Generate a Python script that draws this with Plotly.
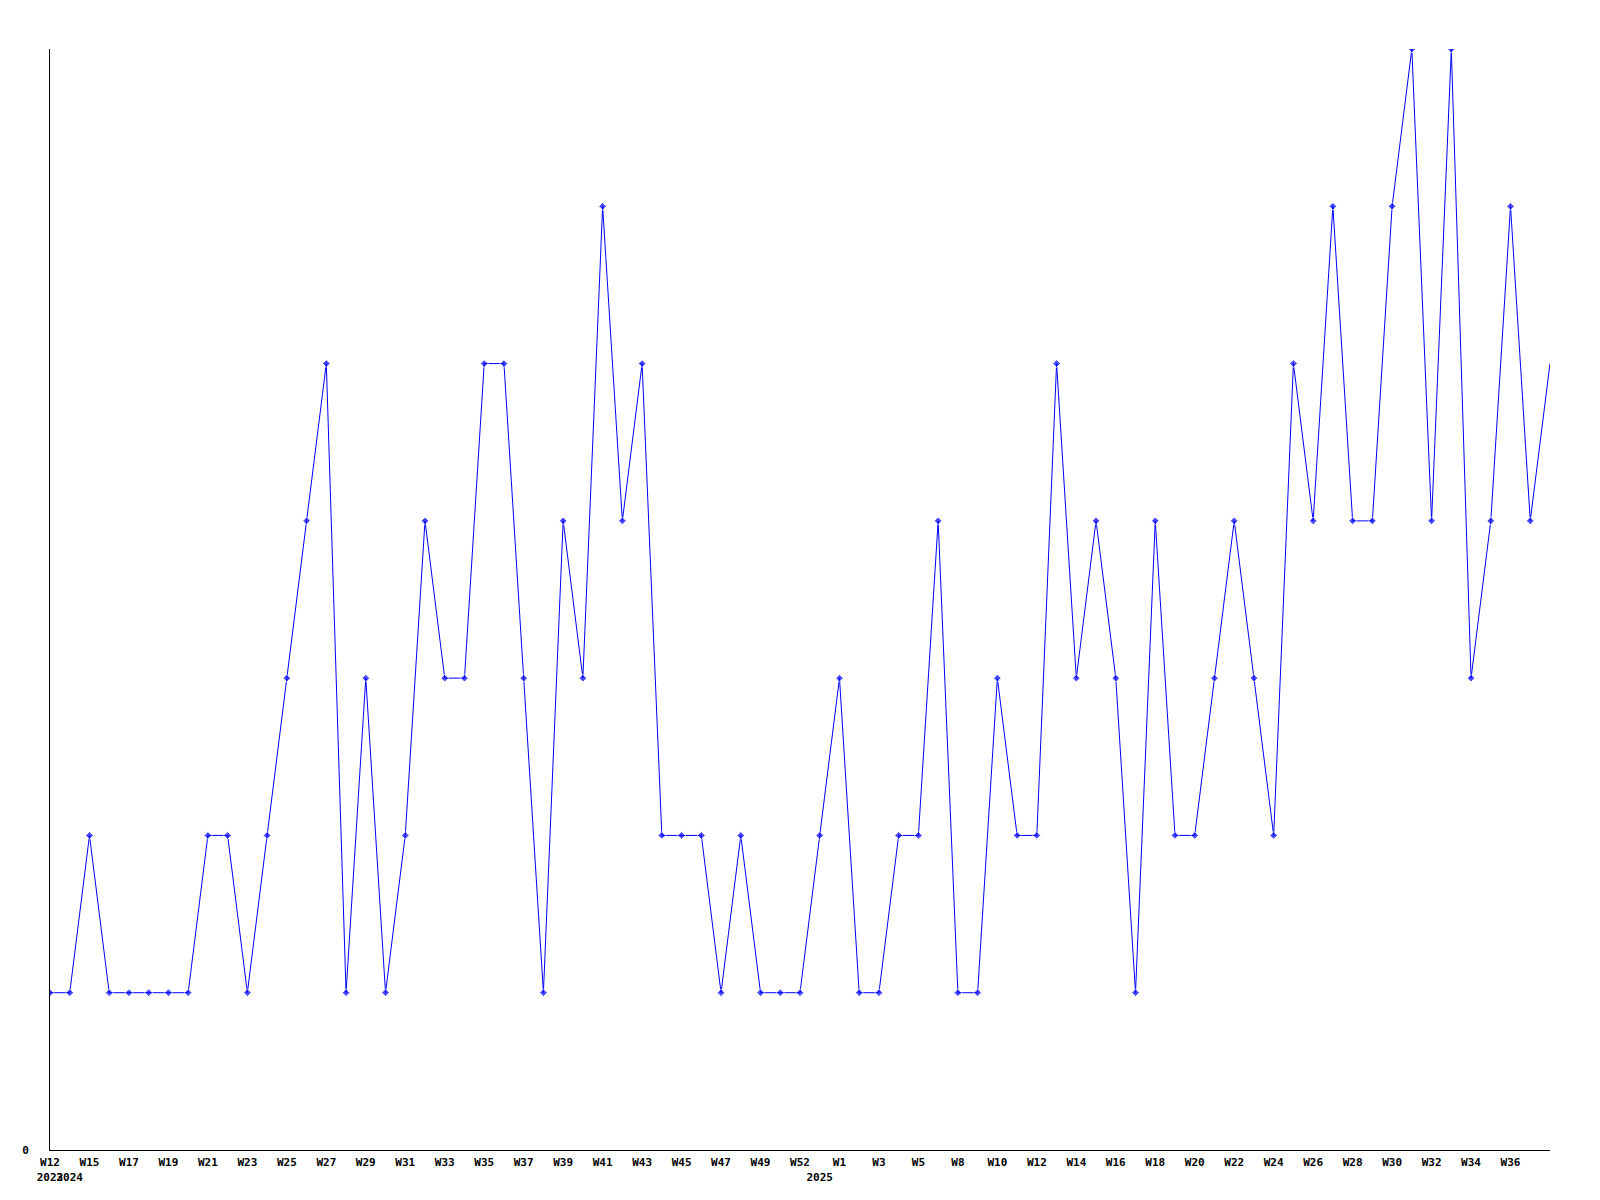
import plotly.graph_objects as go

weeks = ["2023-W12", "2024-W14", "2024-W15", "2024-W16", "2024-W17", "2024-W18", "2024-W19", "2024-W20",
         "2024-W21", "2024-W22", "2024-W23", "2024-W24", "2024-W25", "2024-W26", "2024-W27", "2024-W28",
         "2024-W29", "2024-W30", "2024-W31", "2024-W32", "2024-W33", "2024-W34", "2024-W35", "2024-W36",
         "2024-W37", "2024-W38", "2024-W39", "2024-W40", "2024-W41", "2024-W42", "2024-W43", "2024-W44",
         "2024-W45", "2024-W46", "2024-W47", "2024-W48", "2024-W49", "2024-W51", "2024-W52", "2025-W00",
         "2025-W01", "2025-W02", "2025-W03", "2025-W04", "2025-W05", "2025-W07", "2025-W08", "2025-W09",
         "2025-W10", "2025-W11", "2025-W12", "2025-W13", "2025-W14", "2025-W15", "2025-W16", "2025-W17",
         "2025-W18", "2025-W19", "2025-W20", "2025-W21", "2025-W22", "2025-W23", "2025-W24", "2025-W25",
         "2025-W26", "2025-W27", "2025-W28", "2025-W29", "2025-W30", "2025-W31", "2025-W32", "2025-W33",
         "2025-W34", "2025-W35", "2025-W36", "2025-W37", "2025-W38"]

counts = [1, 1, 2, 1, 1, 1, 1, 1, 2, 2, 1, 2, 3, 4, 5, 1, 3, 1, 2, 4,
          3, 3, 5, 5, 3, 1, 4, 3, 6, 4, 5, 2, 2, 2, 1, 2, 1, 1, 1, 2,
          3, 1, 1, 2, 2, 4, 1, 1, 3, 2, 2, 5, 3, 4, 3, 1, 4, 2, 2, 3,
          4, 3, 2, 5, 4, 6, 4, 4, 6, 7, 4, 7, 3, 4, 6, 4, 5]

tick_weeks = ["W12", "W15", "W17", "W19", "W21", "W23", "W25", "W27", "W29", "W31",
              "W33", "W35", "W37", "W39", "W41", "W43", "W45", "W47", "W49", "W52",
              "W1", "W3", "W5", "W8", "W10", "W12", "W14", "W16", "W18", "W20",
              "W22", "W24", "W26", "W28", "W30", "W32", "W34", "W36"]
year_labels = {0: "2023", 1: "2024", 39: "2025"}

tickvals = []
ticktext = []
for i, w in enumerate(weeks):
    label = tick_weeks[i // 2] if i % 2 == 0 and i // 2 < len(tick_weeks) else ""
    year = year_labels.get(i, "")
    if label or year:
        tickvals.append(w)
        ticktext.append(label + "<br>" + year)

sizes = [6] * (len(weeks) - 1) + [0]

fig = go.Figure(go.Scatter(
    x=weeks, y=counts, mode="lines+markers",
    line=dict(color="#0000FF", width=1),
    marker=dict(color="#0000FF", size=sizes, symbol="diamond"),
    cliponaxis=True,
))

fig.update_layout(
    width=1600, height=1200,
    margin=dict(l=42, r=58, t=41, b=58),
    paper_bgcolor="white", plot_bgcolor="white",
    showlegend=False,
    font=dict(family="DejaVu Sans Mono", size=11, color="black"),
)
fig.update_xaxes(
    type="category", range=[0, len(weeks) - 1],
    tickvals=tickvals, ticktext=ticktext, tickangle=0,
    showgrid=False, zeroline=False,
    showline=True, linecolor="black", linewidth=1,
    ticks="", ticklabelstandoff=2,
    tickfont=dict(family="DejaVu Sans Mono", size=11, weight="bold"),
)
fig.update_yaxes(
    range=[0, 7], tickvals=[0], ticktext=["0"],
    showgrid=False, zeroline=False,
    showline=True, linecolor="black", linewidth=1,
    ticks="", ticklabelstandoff=18,
    tickfont=dict(family="DejaVu Sans Mono", size=11, weight="bold"),
)

fig.write_html("out.html")
